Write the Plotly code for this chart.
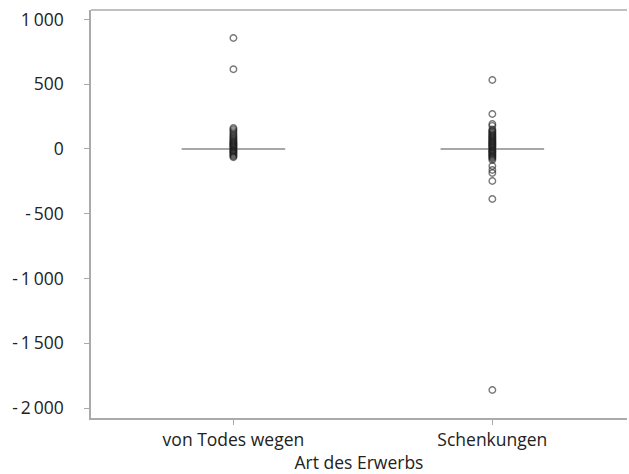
import plotly.graph_objects as go

categories = ["von Todes wegen", "Schenkungen"]

# non-zero values (outliers); the rest of each group is zero
todes_nonzero = [857, 615, 162, 150, 138, 125, 112, 100, 90, 80, 72, 64, 56, 48, 42, 36,
                 30, 24, 18, 12, 6, -6, -12, -18, -25, -32, -40, -48, -56, -64]
schenk_nonzero = [533, 270, 193, 178, 150, 142, 134, 126, 118, 110, 102, 95, 88, 81, 74,
                  67, 60, 54, 48, 42, 36, 30, 24, 18, 12, 6, -6, -12, -18, -24, -30, -37,
                  -44, -51, -58, -66, -74, -85, -131, -162, -185, -247, -386, -1861]
todes_zero_count = 300
schenk_zero_count = 300

todes = todes_nonzero + [0] * todes_zero_count
schenk = schenk_nonzero + [0] * schenk_zero_count

tick_vals = [1000, 500, 0, -500, -1000, -1500, -2000]
tick_text = ["1\u2009000", "500", "0", "-\u2009500", "-\u20091\u2009000", "-\u20091\u2009500", "-\u20092\u2009000"]

grey = "#8a8a8a"
fig = go.Figure()
for name, vals in zip(categories, [todes, schenk]):
    fig.add_trace(go.Box(
        x=[name] * len(vals), y=vals, name=name,
        boxpoints="outliers", jitter=0, pointpos=0,
        fillcolor="rgba(0,0,0,0)",
        line=dict(color=grey, width=1.5),
        whiskerwidth=0,
        width=0.4,
        marker=dict(symbol="circle-open", color="#1e1e1e", size=6.5, opacity=0.6,
                    line=dict(width=1.4, color="#1e1e1e")),
        showlegend=False,
    ))

font_family = "Open Sans, Lato, sans-serif"
fs = 17.5
fig.update_layout(
    width=629, height=474,
    margin=dict(l=91, r=2, t=10, b=56),
    paper_bgcolor="white", plot_bgcolor="white",
    font=dict(family=font_family, size=fs, color="#222222"),
    showlegend=False,
)
fig.update_xaxes(
    type="category", categoryorder="array", categoryarray=categories,
    range=[-0.55, 1.52],
    showline=True, linecolor="#aaaaaa", linewidth=1.5,
    mirror=False, ticks="outside", ticklen=5, tickcolor="#aaaaaa",
    showgrid=False, zeroline=False,
    title=dict(text="Art des Erwerbs", standoff=2, font=dict(size=fs)),
    tickfont=dict(size=fs),
)
fig.update_yaxes(
    range=[-2077, 1073],
    tickvals=tick_vals, ticktext=tick_text,
    showline=True, linecolor="#aaaaaa", linewidth=1.5,
    ticks="outside", ticklen=5, tickcolor="#aaaaaa",
    showgrid=False, zeroline=False,
    ticklabelstandoff=17,
    tickfont=dict(size=fs),
)
# top border line
fig.add_shape(type="line", xref="paper", yref="paper", x0=0, x1=1, y0=1, y1=1,
              line=dict(color="#aaaaaa", width=1.5))

fig.write_html("out.html", config={"displayModeBar": False},
               post_script="document.body.style.margin='0';document.body.style.overflow='hidden';")
